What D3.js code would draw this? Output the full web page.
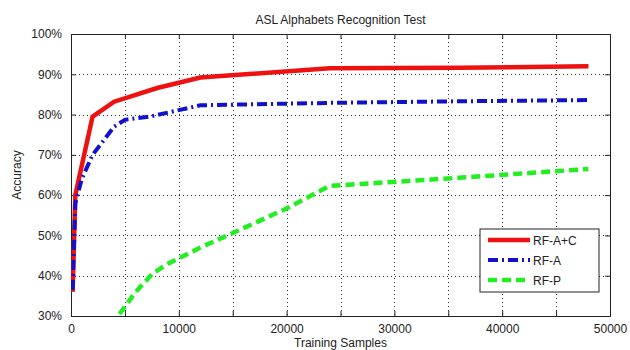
<!DOCTYPE html>
<html>
<head>
<meta charset="utf-8">
<script src="https://cdn.jsdelivr.net/npm/d3@7"></script>
<style>
  body { margin: 0; background: #fff; }
  svg { display: block; font-family: "Liberation Sans", Arial, sans-serif; }
</style>
</head>
<body>
<svg width="630" height="350"></svg>
<script>
// values
const seriesNames = ['RF-A+C', 'RF-A', 'RF-P'];
const rfAC = [[150, 36], [400, 60], [2000, 79.5], [4000, 83.2], [8000, 86.6], [12000, 89.2], [24000, 91.5], [36000, 91.6], [48000, 92]];
const rfA = [[150, 36.5], [400, 58], [1000, 64], [2000, 70], [4000, 77], [5000, 78.7], [7500, 79.6], [10000, 81.1], [12000, 82.3], [24000, 82.9], [36000, 83.3], [48000, 83.6]];
const rfP = [[4500, 30.5], [6000, 36], [7600, 40.6], [9000, 43], [12000, 47], [16000, 51.8], [20000, 56.7], [24000, 62.3], [36000, 64.3], [48000, 66.5]];
const xTicks = [0, 10000, 20000, 30000, 40000, 50000];
const xGrid = [5000, 10000, 15000, 20000, 25000, 30000, 35000, 40000, 45000];
const yTicks = [30, 40, 50, 60, 70, 80, 90, 100];

const svg = d3.select('svg');
const pLeft = 71, pRight = 610, pTop = 34, pBottom = 316;

const x = d3.scaleLinear().domain([0, 50000]).range([pLeft, pRight]);
const y = d3.scaleLinear().domain([30, 100]).range([pBottom, pTop]);

// grid
const grid = svg.append('g').attr('stroke', '#333').attr('stroke-width', 1).attr('stroke-dasharray', '1,3');
grid.selectAll('.gx').data(xGrid).join('line')
    .attr('x1', d => Math.round(x(d)) + 0.5).attr('x2', d => Math.round(x(d)) + 0.5)
    .attr('y1', pTop).attr('y2', pBottom);
grid.selectAll('.gy').data(yTicks.slice(1, -1)).join('line')
    .attr('y1', d => Math.round(y(d)) + 0.5).attr('y2', d => Math.round(y(d)) + 0.5)
    .attr('x1', pLeft).attr('x2', pRight);

// axes (ticks pointing inward on every side)
const fmtPct = d => d + '%';
svg.append('g').attr('transform', `translate(0,${pBottom})`)
    .call(d3.axisBottom(x).tickValues(xGrid.concat([0, 50000])).tickSize(-5).tickPadding(8).tickFormat(d => xTicks.includes(d) ? d : ''));
svg.append('g').attr('transform', `translate(0,${pTop})`)
    .call(d3.axisTop(x).tickValues(xGrid).tickSize(-5).tickFormat(''));
svg.append('g').attr('transform', `translate(${pLeft},0)`)
    .call(d3.axisLeft(y).tickValues(yTicks).tickSize(-5).tickPadding(9).tickFormat(fmtPct));
svg.append('g').attr('transform', `translate(${pRight},0)`)
    .call(d3.axisRight(y).tickValues(yTicks).tickSize(-5).tickFormat(''));
svg.selectAll('.domain').attr('stroke', '#222');
svg.selectAll('.tick line').attr('stroke', '#222');
svg.selectAll('.tick text').attr('font-size', 12).attr('fill', '#222').attr('font-family', '"Liberation Sans", Arial, sans-serif');

// lines
const line = d3.line().x(d => x(d[0])).y(d => y(d[1]));
svg.append('clipPath').attr('id', 'plot').append('rect')
    .attr('x', pLeft).attr('y', pTop).attr('width', pRight - pLeft).attr('height', pBottom - pTop);
const styles = [
    { data: rfAC, color: '#ee1111', dash: null, width: 4.5 },
    { data: rfA, color: '#1111cc', dash: '10,4,2,4', width: 4 },
    { data: rfP, color: '#22ee22', dash: '9,5', width: 4.5 }
];
const lines = svg.append('g').attr('clip-path', 'url(#plot)');
styles.forEach(s => {
    lines.append('path').datum(s.data)
        .attr('fill', 'none').attr('stroke', s.color).attr('stroke-width', s.width)
        .attr('stroke-dasharray', s.dash).attr('d', line);
});

// legend
const lg = svg.append('g').attr('transform', 'translate(480,229)');
lg.append('rect').attr('width', 119).attr('height', 63).attr('fill', '#fff').attr('stroke', '#222');
styles.forEach((s, i) => {
    const yy = 11 + i * 20;
    lg.append('line').attr('x1', 8).attr('x2', 50).attr('y1', yy).attr('y2', yy)
        .attr('stroke', s.color).attr('stroke-width', s.width).attr('stroke-dasharray', s.dash);
    lg.append('text').attr('x', 53).attr('y', yy + 4.5).attr('font-size', 12).attr('fill', '#222').text(seriesNames[i]);
});

// titles
svg.append('text').attr('x', (pLeft + pRight) / 2).attr('y', 24).attr('text-anchor', 'middle')
    .attr('font-size', 12).attr('fill', '#222').text('ASL Alphabets Recognition Test');
svg.append('text').attr('x', (pLeft + pRight) / 2).attr('y', 346.5).attr('text-anchor', 'middle')
    .attr('font-size', 12).attr('fill', '#222').text('Training Samples');
svg.append('text').attr('transform', `translate(21,${(pTop + pBottom) / 2}) rotate(-90)`).attr('text-anchor', 'middle')
    .attr('font-size', 12).attr('fill', '#222').text('Accuracy');
</script>
</body>
</html>
